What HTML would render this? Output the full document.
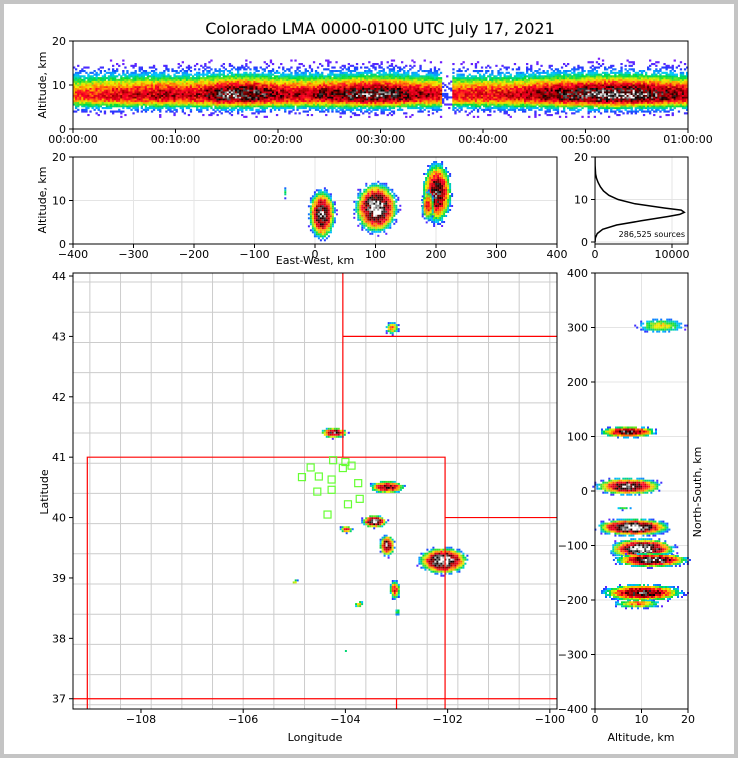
<!DOCTYPE html>
<html><head><meta charset="utf-8"><style>
html,body{margin:0;padding:0;background:#fff}
svg{display:block;font-family:"DejaVu Sans","Liberation Sans",sans-serif}
</style></head><body>
<svg id="s" width="738" height="758" xmlns="http://www.w3.org/2000/svg">
<rect x="2" y="2" width="734" height="754" fill="#fff" stroke="#c4c4c4" stroke-width="4"/>
<text x="380" y="34" font-size="16" text-anchor="middle">Colorado LMA 0000-0100 UTC July 17, 2021</text>
<defs><clipPath id="hc"><rect x="595" y="157" width="93" height="87"/></clipPath></defs>
<g id="g"></g>
</svg>
<script>
// ---- data ----
const timeTicks=["00:00:00","00:10:00","00:20:00","00:30:00","00:40:00","00:50:00","01:00:00"];
const minuteIntensity=[0.6,0.62,0.65,0.68,0.7,0.7,0.72,0.72,0.74,0.74,0.72,0.72,0.75,0.8,0.88,0.92,0.92,0.9,0.85,0.78,0.76,0.74,0.74,0.76,0.8,0.8,0.84,0.88,0.9,0.9,0.88,0.86,0.8,0.76,0.74,0.7,0.1,0.66,0.66,0.68,0.68,0.68,0.7,0.7,0.74,0.78,0.82,0.86,0.88,0.9,0.92,0.95,0.95,0.95,0.95,0.92,0.88,0.84,0.8,0.78];
const minuteTop=[14,14,15,15,15,15,16,16,16,16,16,16,16,16,17,17,17,17,17,16,16,16,16,17,17,17,16,16,16,16,16,16,15,15,15,15,11,15,15,15,15,15,16,16,17,18,18,18,18,18,17,17,17,17,17,17,17,17,16,16];
const ewTicks=[-400,-300,-200,-100,0,100,200,300,400];
const ewCenters=[10,100,200,185,-50];
const ewAlts=[7,8.5,12,9,12];
const ewRx=[25,40,28,12,4];
const ewRz=[6.5,6.5,8,4,1.5];
const ewInt=[0.85,0.95,0.8,0.6,0.25];
const histAlt=[0,1,2,3,4,5,6,6.5,7,7.5,8,9,10,11,12,13,14,15,16,18,20];
const histCount=[0,50,300,1000,2800,6000,9500,11000,11600,11200,9000,5200,3000,1800,1100,700,400,200,80,15,0];
const lonTicks=[-108,-106,-104,-102,-100];
const latTicks=[37,38,39,40,41,42,43,44];
const mapLon=[-104.24,-103.2,-103.45,-103.2,-102.1,-103.05,-103.75,-104.0,-103.1,-105.0,-103.0,-104.0];
const mapLat=[41.42,40.52,39.95,39.55,39.3,38.82,38.58,39.82,43.15,38.95,38.45,37.8];
const mapRx=[0.3,0.4,0.28,0.17,0.55,0.12,0.1,0.15,0.15,0.07,0.06,0.05];
const mapRy=[0.1,0.12,0.12,0.2,0.25,0.18,0.07,0.07,0.12,0.06,0.06,0.04];
const mapInt=[0.8,0.75,0.9,0.85,0.95,0.6,0.45,0.6,0.5,0.4,0.35,0.3];
const stationLon=[-104.85,-104.68,-104.52,-104.24,-104.0,-103.88,-104.27,-104.05,-104.55,-104.27,-103.75,-103.72,-103.95,-104.35];
const stationLat=[40.67,40.83,40.68,40.95,40.92,40.86,40.63,40.82,40.43,40.46,40.57,40.31,40.22,40.05];
const nsTicks=[-400,-300,-200,-100,0,100,200,300,400];
const nsAlts=[7,7,8,10,12,10,9,14,6];
const nsCenters=[110,10,-65,-105,-125,-185,-205,305,-30];
const nsRa=[7,8,9,8,9,10,6,6,2];
const nsRn=[12,18,18,22,15,18,10,15,4];
const nsInt=[0.8,0.85,0.95,0.95,0.9,0.8,0.5,0.4,0.3];

const g=document.getElementById('g');const NS='http://www.w3.org/2000/svg';
function el(t,a,p){const e=document.createElementNS(NS,t);for(const k in a)e.setAttribute(k,a[k]);(p||g).appendChild(e);return e;}
const stops=[[0,[140,20,255]],[0.1,[30,60,255]],[0.2,[0,200,255]],[0.3,[0,220,60]],[0.42,[240,240,0]],[0.52,[255,140,0]],[0.62,[255,0,40]],[0.74,[170,0,0]],[0.84,[0,0,0]],[0.93,[130,130,130]],[1,[255,255,255]]];
function cmap(v){v=Math.max(0,Math.min(1,v));for(let i=1;i<stops.length;i++){if(v<=stops[i][0]){const a=stops[i-1],b=stops[i],f=(v-a[0])/(b[0]-a[0]);return 'rgb('+a[1].map((c,j)=>Math.round(c+(b[1][j]-c)*f)).join(',')+')';}}return '#fff';}
// deterministic texture for speckle (not data)
function tex(i,j){let h=(i*374761393+j*668265263)>>>0;h=((h^(h>>>13))*1274126177)>>>0;h=(h^(h>>>16))>>>0;return (h%1000)/1000;}
function keep(v,i,j){if(v<0.02)return false;if(v>=0.3)return true;return tex(i,j)<v/0.3;}
function jit(v,i,j){return v*(0.82+0.3*tex(j+7,i+3));}
function lin(d0,d1,r0,r1){return v=>r0+(v-d0)*(r1-r0)/(d1-d0);}
function axes(x0,y0,x1,y1,name){const r=el('rect',{x:x0,y:y0,width:x1-x0,height:y1-y0,fill:'none',stroke:'#000','stroke-width':1});
}
function txt(x,y,s,anchor,size,name,rot){const t=el('text',{x:x,y:y,'font-size':size||11,'text-anchor':anchor||'middle'});t.textContent=s;
if(rot)t.setAttribute('transform','rotate(-90 '+x+' '+y+')');
return t;}
function tick(x1,y1,x2,y2){el('line',{x1,y1,x2,y2,stroke:'#000','stroke-width':1});}
function grid(x1,y1,x2,y2){el('line',{x1,y1,x2,y2,stroke:'#e4e4e4','stroke-width':1});}
function blob(cx,cy,rx,ry,I,cell,name){const grp=el('g',{});
let i=0;for(let y=cy-ry;y<=cy+ry;y+=cell){i++;let j=0;for(let x=cx-rx;x<=cx+rx;x+=cell){j++;const d=((x-cx)/rx)**2+((y-cy)/ry)**2;if(d>1)continue;
const ii=Math.round(x*3)+i,jj=Math.round(y*5)+j;
const v=jit(I*Math.pow(1-d,1.4)*1.05+0.04,ii,jj);if(!keep(v,ii,jj))continue;
el('rect',{x:x.toFixed(1),y:y.toFixed(1),width:cell,height:cell,fill:cmap(v)},grp);}}}

// ---- panel 1: time-height ----
{const X=lin(0,60,73,688),Y=lin(0,20,129,41);
for(let z=0;z<=20;z+=10)grid(73,Y(z),688,Y(z));
const grp=el('g',{});
const dt=0.2,dz=0.4;
for(let m=0;m<60;m++)for(let h=0;h<5;h++){const t=m+h*dt;for(let z=1;z<minuteTop[m]+1;z+=dz){
const w=z<7.5?2.6:4.2;let v=minuteIntensity[m]*Math.exp(-(((z-7.5)/w)**2));
const ii=m*5+h,jj=Math.round(z*2.5);v=jit(v,ii,jj);
if(!keep(v,ii,jj))continue;
el('rect',{x:X(t).toFixed(1),y:Y(z+dz).toFixed(1),width:(X(dt)-X(0)+0.3).toFixed(1),height:(Y(0)-Y(dz)+0.3).toFixed(1),fill:cmap(v)},grp);}}
axes(73,41,688,129,'time-height-axes');
timeTicks.forEach((s,i)=>{const x=X(i*10);tick(x,129,x,133);txt(x,143,s,'middle',11,'time-tick-label');});
[0,10,20].forEach(z=>{tick(69,Y(z),73,Y(z));txt(66,Y(z)+4,String(z),'end',11,'alt-tick-label');});
txt(46,85,'Altitude, km','middle',11,'time-height-y-title',true);}

// ---- panel 2: east-west ----
{const X=lin(-400,400,73,557),Y=lin(0,20,244,157);
ewTicks.forEach(v=>grid(X(v),157,X(v),244));[0,10,20].forEach(z=>grid(73,Y(z),557,Y(z)));
ewCenters.forEach((c,i)=>blob(X(c),Y(ewAlts[i]),X(ewRx[i])-X(0),Y(0)-Y(ewRz[i]),ewInt[i],2,'ew-cluster'));
axes(73,157,557,244,'east-west-axes');
ewTicks.forEach(v=>{const x=X(v);tick(x,244,x,248);txt(x,258,(v<0?'\u2212':'')+Math.abs(v),'middle',11,'ew-tick-label');});
[0,10,20].forEach(z=>{tick(69,Y(z),73,Y(z));txt(66,Y(z)+4,String(z),'end',11,'ew-alt-tick-label');});
txt(315,264,'East-West, km','middle',11,'ew-x-title');
txt(46,200,'Altitude, km','middle',11,'ew-y-title',true);}

// ---- panel 3: histogram ----
{const X=lin(0,10000,595,672),Y=lin(0,20,242,157);
[0,10000].forEach(v=>grid(X(v),157,X(v),244));[0,10,20].forEach(z=>grid(595,Y(z),688,Y(z)));
const p=el('polyline',{points:histAlt.map((a,i)=>X(histCount[i]).toFixed(1)+','+Y(a).toFixed(1)).join(' '),fill:'none',stroke:'#000','stroke-width':1.5,'clip-path':'url(#hc)'});

axes(595,157,688,244,'histogram-axes');
[0,10000].forEach(v=>{const x=X(v);tick(x,244,x,248);txt(x,258,String(v),'middle',11,'hist-tick-label');});
[0,10,20].forEach(z=>{tick(591,Y(z),595,Y(z));txt(588,Y(z)+4,String(z),'end',11,'hist-alt-tick-label');});
txt(685,237,'286,525 sources','end',8,'source-count');}

// ---- panel 4: map ----
{const X=lin(-109.33,-99.86,73,557),Y=lin(44.05,36.83,273,709);
const cg=el('g',{stroke:'#cccccc','stroke-width':1,fill:'none'});
for(let lo=-109;lo<-100;lo+=0.6)el('line',{x1:X(lo),y1:273,x2:X(lo),y2:709},cg);
for(let la=36.9;la<44;la+=0.5)el('line',{x1:73,y1:Y(la),x2:557,y2:Y(la)},cg);
mapLon.forEach((lo,i)=>blob(X(lo),Y(mapLat[i]),X(lo+mapRx[i])-X(lo),Y(mapLat[i]-mapRy[i])-Y(mapLat[i]),mapInt[i],2,'map-storm-cluster'));
const sg=el('g',{stroke:'#ff0000','stroke-width':1.2,fill:'none'});
el('polyline',{points:[[-109.05,36.83],[-109.05,41],[-102.05,41],[-102.05,36.83]].map(p=>X(p[0])+','+Y(p[1])).join(' ')},sg);
el('line',{x1:X(-104.05),y1:273,x2:X(-104.05),y2:Y(41)},sg);
el('line',{x1:X(-104.05),y1:Y(43),x2:557,y2:Y(43)},sg);
el('line',{x1:X(-102.05),y1:Y(40),x2:557,y2:Y(40)},sg);
el('line',{x1:73,y1:Y(37),x2:557,y2:Y(37)},sg);
el('line',{x1:X(-103),y1:Y(37),x2:X(-103),y2:709},sg);
stationLon.forEach((lo,i)=>{const r=el('rect',{x:X(lo)-3.5,y:Y(stationLat[i])-3.5,width:7,height:7,fill:'none',stroke:'#66ff33','stroke-width':1.2});
});
axes(73,273,557,709,'map-axes');
lonTicks.forEach(v=>{const x=X(v);tick(x,709,x,713);txt(x,723,'\u2212'+Math.abs(v),'middle',11,'lon-tick-label');});
latTicks.forEach(v=>{const y=Y(v);tick(69,y,73,y);txt(66,y+4,String(v),'end',11,'lat-tick-label');});
txt(315,741,'Longitude','middle',11,'map-x-title');
txt(48,492,'Latitude','middle',11,'map-y-title',true);}

// ---- panel 5: north-south ----
{const X=lin(0,20,595,688),Y=lin(400,-400,273,709);
[0,10,20].forEach(v=>grid(X(v),273,X(v),709));nsTicks.forEach(v=>grid(595,Y(v),688,Y(v)));
nsCenters.forEach((c,i)=>blob(X(nsAlts[i]),Y(c),X(nsRa[i])-X(0),Y(0)-Y(nsRn[i]),nsInt[i],2,'ns-cluster'));
axes(595,273,688,709,'north-south-axes');
[0,10,20].forEach(v=>{const x=X(v);tick(x,709,x,713);txt(x,723,String(v),'middle',11,'ns-alt-tick-label');});
nsTicks.forEach(v=>{const y=Y(v);tick(591,y,595,y);txt(588,y+4,(v<0?'\u2212':'')+Math.abs(v),'end',11,'ns-tick-label');});
txt(641,741,'Altitude, km','middle',11,'ns-x-title');
txt(701,492,'North-South, km','middle',11,'ns-y-title',true);}
</script>
</body></html>
